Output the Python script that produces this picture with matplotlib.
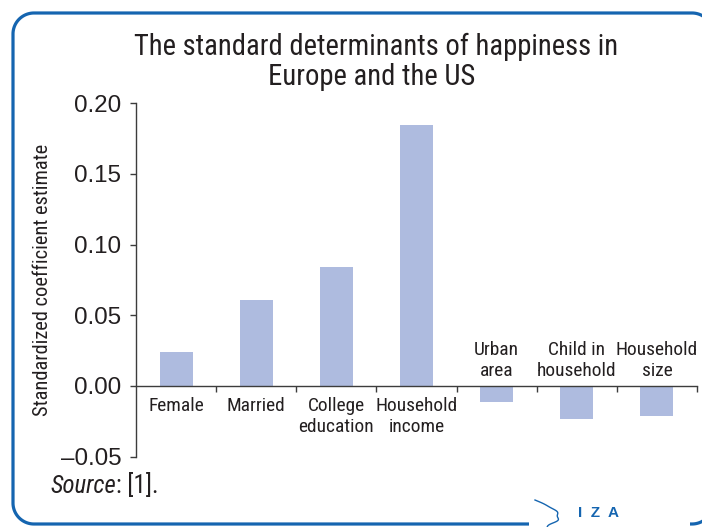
"""Bar chart: standard determinants of happiness in Europe and the US."""

import matplotlib

matplotlib.use("Agg")
import matplotlib.pyplot as plt
import numpy as np

CATEGORIES = [
    "Female",
    "Married",
    "College\neducation",
    "Household\nincome",
    "Urban\narea",
    "Child in\nhousehold",
    "Household\nsize",
]
COEFFICIENTS = [0.024, 0.061, 0.084, 0.1845, -0.011, -0.0233, -0.021]
Y_TICKS = [-0.05, 0.00, 0.05, 0.10, 0.15, 0.20]
Y_TICK_LABELS = ["\u20130.05", "0.00", "0.05", "0.10", "0.15", "0.20"]

TITLE_LINES = ["The standard determinants of happiness in", "Europe and the US"]
Y_LABEL = "Standardized coefficient estimate"

BAR_COLOR = "#aebbdf"
FRAME_COLOR = "#1565b0"
AXIS_COLOR = "#3c3c3c"
TEXT_COLOR = "#231f20"
W, H = 702, 527
PLAIN_FONT = ["Liberation Sans", "DejaVu Sans"]

plt.rcParams["font.family"] = ["Roboto Condensed", "Liberation Sans", "DejaVu Sans"]


def fit_size(fig, text, target_px, base=12.0, **kwargs):
    """Font size that gives the text the wanted width in pixels."""
    probe = fig.text(0, 0, text, fontsize=base, **kwargs)
    width = probe.get_window_extent(renderer=fig.canvas.get_renderer()).width
    probe.remove()
    return base * target_px / width


def rounded_arc(cx, cy, r, a0, a1):
    ang = np.radians(np.linspace(a0, a1, 30))
    return cx + r * np.cos(ang), cy - r * np.sin(ang)


def draw_frame(fig):
    """Rounded frame in pixel units (y down); right side runs off the picture."""
    x0, x1, y0, y1, r = 13, 713, 13, 524, 21
    xs, ys = [], []
    for part in [
        rounded_arc(x1 - r, y0 + r, r, 0, 90),
        rounded_arc(x0 + r, y0 + r, r, 90, 180),
        rounded_arc(x0 + r, y1 - r, r, 180, 270),
    ]:
        xs.extend(part[0])
        ys.extend(part[1])
    xs.append(529)
    ys.append(y1)
    ax_, ay_ = rounded_arc(x1 - r, y1 - r, r, 270, 360)
    xs2 = np.concatenate([[690], ax_])
    ys2 = np.concatenate([[y1], ay_])
    for px, py in [(xs, ys), (xs2, ys2)]:
        fig.add_artist(plt.Line2D(np.asarray(px) / W, 1 - np.asarray(py) / H,
                                  transform=fig.transFigure, color=FRAME_COLOR,
                                  linewidth=2.3, solid_capstyle="butt"))


def main() -> None:
    fig = plt.figure(figsize=(W / 100, H / 100), dpi=100)
    ax = fig.add_axes([136 / W, 1 - 456.75 / H, 561 / W, 353.75 / H])

    title_size = fit_size(fig, TITLE_LINES[0], 483)
    label_size = fit_size(fig, "Household", 82)
    tick_size = fit_size(fig, "0.20", 47, family=PLAIN_FONT)
    ylabel_size = fit_size(fig, Y_LABEL, 270)
    source_size = fit_size(fig, "Source: [1].", 110)

    x = np.arange(len(CATEGORIES))
    ax.bar(x, COEFFICIENTS, width=0.41, color=BAR_COLOR, zorder=2)

    ax.set_xlim(-0.5, len(CATEGORIES) - 0.5)
    ax.set_ylim(Y_TICKS[0], Y_TICKS[-1])

    # x axis sits on zero, boundary ticks between categories
    for side in ["top", "right"]:
        ax.spines[side].set_visible(False)
    ax.spines["bottom"].set_position(("data", 0))
    for side in ["bottom", "left"]:
        ax.spines[side].set_color(AXIS_COLOR)
        ax.spines[side].set_linewidth(1.0)
    ax.set_xticks(x)
    ax.set_xticks(x + 0.5, minor=True)
    ax.tick_params(axis="x", which="major", length=0, labelbottom=False)
    ax.tick_params(axis="x", which="minor", length=4.5, width=1.0, color=AXIS_COLOR, direction="out")

    ax.set_yticks(Y_TICKS)
    ax.set_yticklabels(Y_TICK_LABELS, fontsize=tick_size, color=TEXT_COLOR, family=PLAIN_FONT)
    ax.tick_params(axis="y", length=4.5, width=1.0, color=AXIS_COLOR, pad=6)
    ax.set_ylabel(Y_LABEL, fontsize=ylabel_size, color=TEXT_COLOR)
    ax.yaxis.set_label_coords(-0.15, 0.5)

    for xi, label, value in zip(x, CATEGORIES, COEFFICIENTS):
        if value >= 0:
            ax.annotate(label, (xi, 0), xytext=(0, -8), textcoords="offset points",
                        ha="center", va="top", fontsize=label_size, color=TEXT_COLOR, linespacing=1.22)
        else:
            ax.annotate(label, (xi, 0), xytext=(0, 4.5), textcoords="offset points",
                        ha="center", va="bottom", fontsize=label_size, color=TEXT_COLOR, linespacing=1.22)

    fig.text(376 / W, 1 - 55 / H, TITLE_LINES[0], ha="center", va="baseline", fontsize=title_size, color=TEXT_COLOR)
    fig.text(372 / W, 1 - 85 / H, TITLE_LINES[1], ha="center", va="baseline", fontsize=title_size, color=TEXT_COLOR)

    src = fig.text(50 / W, 1 - 493 / H, "Source", ha="left", va="baseline", fontsize=source_size,
                   style="italic", color=TEXT_COLOR)
    src_box = src.get_window_extent(renderer=fig.canvas.get_renderer())
    fig.text(src_box.x1 / W, 1 - 493 / H, ": [1].", ha="left", va="baseline", fontsize=source_size,
             color=TEXT_COLOR)

    draw_frame(fig)

    # IZA logo: head outline and letters
    t = np.linspace(0, 1, 60)
    lx = 535 + 20 * np.sin(np.pi * t * 0.9) + 6 * t + 2 * np.sin(6 * np.pi * t) * t
    ly = 500 + 27 * t
    fig.add_artist(plt.Line2D(lx / W, 1 - ly / H, transform=fig.transFigure,
                              color=FRAME_COLOR, linewidth=1.0, zorder=4))
    fig.text(598 / W, 1 - 513 / H, "I  Z  A", ha="center", va="center", fontsize=11,
             fontweight="bold", color=FRAME_COLOR, family=PLAIN_FONT, zorder=4)

    fig.savefig("out.png", dpi=100)
    plt.close(fig)


if __name__ == "__main__":
    main()
